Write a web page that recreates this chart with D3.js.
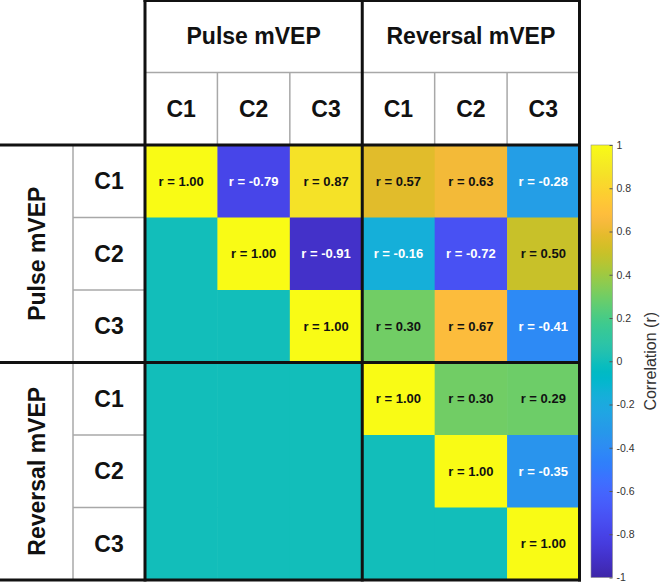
<!DOCTYPE html>
<html>
<head>
<meta charset="utf-8">
<script src="https://cdn.jsdelivr.net/npm/d3@7"></script>
<style>
  html, body { margin: 0; padding: 0; background: #fff; }
  svg { display: block; font-family: "Liberation Sans", Arial, Helvetica, sans-serif; }
</style>
</head>
<body>
<svg id="chart" width="660" height="584"></svg>
<script>
// ---------- DATA ----------
const groups = ["Pulse mVEP", "Reversal mVEP"];
const components = ["C1", "C2", "C3"];
// upper-triangle correlation matrix (rows: Pulse C1..C3, Reversal C1..C3), null = not shown
const rowPulseC1    = [1.00, -0.79,  0.87,  0.57,  0.63, -0.28];
const rowPulseC2    = [null,  1.00, -0.91, -0.16, -0.72,  0.50];
const rowPulseC3    = [null,  null,  1.00,  0.30,  0.67, -0.41];
const rowReversalC1 = [null,  null,  null,  1.00,  0.30,  0.29];
const rowReversalC2 = [null,  null,  null,  null,  1.00, -0.35];
const rowReversalC3 = [null,  null,  null,  null,  null,  1.00];
const colorbarTicks = [-1, -0.8, -0.6, -0.4, -0.2, 0, 0.2, 0.4, 0.6, 0.8, 1];
const colorbarLabel = "Correlation (r)";

// MATLAB parula colormap (64 entries)
const parula = [
[0.2422,0.1504,0.6603],[0.2504,0.1650,0.7076],[0.2578,0.1818,0.7511],[0.2647,0.1978,0.7952],
[0.2706,0.2147,0.8364],[0.2751,0.2342,0.8710],[0.2783,0.2559,0.8991],[0.2803,0.2782,0.9221],
[0.2813,0.3006,0.9414],[0.2810,0.3228,0.9579],[0.2795,0.3447,0.9717],[0.2760,0.3667,0.9829],
[0.2699,0.3892,0.9906],[0.2602,0.4123,0.9952],[0.2440,0.4358,0.9988],[0.2206,0.4603,0.9973],
[0.1963,0.4847,0.9892],[0.1834,0.5074,0.9798],[0.1786,0.5289,0.9682],[0.1764,0.5499,0.9520],
[0.1687,0.5703,0.9359],[0.1540,0.5902,0.9218],[0.1460,0.6091,0.9079],[0.1380,0.6276,0.8973],
[0.1248,0.6459,0.8883],[0.1113,0.6635,0.8763],[0.0952,0.6798,0.8598],[0.0689,0.6948,0.8394],
[0.0297,0.7082,0.8163],[0.0036,0.7203,0.7917],[0.0067,0.7312,0.7660],[0.0433,0.7411,0.7394],
[0.0964,0.7500,0.7120],[0.1408,0.7584,0.6842],[0.1717,0.7670,0.6554],[0.1938,0.7758,0.6251],
[0.2161,0.7843,0.5923],[0.2470,0.7918,0.5567],[0.2906,0.7973,0.5188],[0.3406,0.8008,0.4789],
[0.3909,0.8029,0.4354],[0.4456,0.8024,0.3909],[0.5044,0.7993,0.3480],[0.5616,0.7942,0.3045],
[0.6174,0.7876,0.2612],[0.6720,0.7793,0.2227],[0.7242,0.7698,0.1910],[0.7738,0.7598,0.1646],
[0.8203,0.7498,0.1535],[0.8634,0.7406,0.1596],[0.9035,0.7330,0.1774],[0.9393,0.7288,0.2100],
[0.9728,0.7298,0.2394],[0.9956,0.7434,0.2371],[0.9970,0.7659,0.2199],[0.9952,0.7893,0.2028],
[0.9892,0.8136,0.1885],[0.9786,0.8386,0.1766],[0.9676,0.8639,0.1643],[0.9610,0.8890,0.1537],
[0.9597,0.9135,0.1423],[0.9628,0.9373,0.1265],[0.9691,0.9606,0.1064],[0.9769,0.9839,0.0805]
].map(c => d3.rgb(c[0]*255, c[1]*255, c[2]*255).formatHex());

// ---------- BUILD ----------
const rows = [rowPulseC1, rowPulseC2, rowPulseC3, rowReversalC1, rowReversalC2, rowReversalC3];
const keys = [];
groups.forEach(g => components.forEach(c => keys.push(g + "|" + c)));
const cells = [];
rows.forEach((r, i) => r.forEach((v, j) => cells.push({ row: keys[i], col: keys[j], value: v })));

const svg = d3.select("#chart");
const gridLeft = 145, gridRight = 579.5, gridTop = 145, gridBottom = 580;
const headMid = 72.5, sideMid = 73;

const x = d3.scaleBand().domain(keys).range([gridLeft, gridRight]);
const y = d3.scaleBand().domain(keys).range([gridTop, gridBottom]);
const interp = d3.piecewise(d3.interpolateRgb, parula);
const color = d3.scaleSequential(interp).domain([-1, 1]);

// cells
svg.append("g").selectAll("rect").data(cells).join("rect")
  .attr("x", d => x(d.col)).attr("y", d => y(d.row))
  .attr("width", x.bandwidth() + 0.5).attr("height", y.bandwidth() + 0.5)
  .attr("fill", d => color(d.value == null ? 0 : d.value));

svg.append("g").selectAll("text").data(cells.filter(d => d.value != null)).join("text")
  .attr("x", d => x(d.col) + x.bandwidth() / 2)
  .attr("y", d => y(d.row) + y.bandwidth() / 2)
  .attr("text-anchor", "middle").attr("dominant-baseline", "central")
  .attr("font-size", 13).attr("font-weight", "bold")
  .attr("fill", d => d.value < 0 ? "#ffffff" : "#111111")
  .text(d => "r = " + d.value.toFixed(2));

// header labels
const gHead = svg.append("g").attr("font-weight", "bold").attr("fill", "#111").attr("text-anchor", "middle");
groups.forEach(g => {
  const k0 = g + "|" + components[0], k2 = g + "|" + components[components.length - 1];
  const cx = (x(k0) + x(k2) + x.bandwidth()) / 2;
  gHead.append("text").attr("x", cx).attr("y", headMid / 2).attr("dominant-baseline", "central")
    .attr("font-size", 23).text(g);
  const cy = (y(k0) + y(k2) + y.bandwidth()) / 2;
  gHead.append("text").attr("transform", `translate(${sideMid / 2},${cy}) rotate(-90)`)
    .attr("dominant-baseline", "central").attr("font-size", 23).text(g);
});
keys.forEach(k => {
  const c = k.split("|")[1];
  gHead.append("text").attr("x", x(k) + x.bandwidth() / 2).attr("y", (headMid + gridTop) / 2)
    .attr("dominant-baseline", "central").attr("font-size", 23).text(c);
  gHead.append("text").attr("x", (sideMid + gridLeft) / 2).attr("y", y(k) + y.bandwidth() / 2)
    .attr("dominant-baseline", "central").attr("font-size", 23).text(c);
});

// thin gray lines
const gray = svg.append("g").attr("stroke", "#a8a8a8").attr("stroke-width", 1.5);
gray.append("line").attr("x1", gridLeft).attr("x2", gridRight).attr("y1", headMid).attr("y2", headMid);
gray.append("line").attr("x1", sideMid).attr("x2", sideMid).attr("y1", gridTop).attr("y2", gridBottom);
keys.forEach((k, i) => {
  if (i % 3 === 0) return;
  gray.append("line").attr("x1", x(k)).attr("x2", x(k)).attr("y1", headMid).attr("y2", gridTop);
  gray.append("line").attr("x1", sideMid).attr("x2", gridLeft).attr("y1", y(k)).attr("y2", y(k));
});

// thick black lines
const black = svg.append("g").attr("stroke", "#111").attr("stroke-width", 3).attr("stroke-linecap", "square");
const blockX = [x(keys[0]), x(keys[3]), gridRight];
const blockY = [y(keys[0]), y(keys[3]), gridBottom];
blockX.forEach(v => black.append("line").attr("x1", v).attr("x2", v).attr("y1", 0).attr("y2", gridBottom));
blockY.forEach(v => black.append("line").attr("x1", 0).attr("x2", gridRight).attr("y1", v).attr("y2", v));
black.append("line").attr("x1", gridLeft).attr("x2", gridRight).attr("y1", 0.5).attr("y2", 0.5);

// colorbar
const cbX = 591, cbW = 21.5, cbTop = 145, cbBottom = 577.5;
const defs = svg.append("defs");
const grad = defs.append("linearGradient").attr("id", "cbgrad")
  .attr("x1", 0).attr("x2", 0).attr("y1", 1).attr("y2", 0);
parula.forEach((c, i) => grad.append("stop").attr("offset", i / (parula.length - 1)).attr("stop-color", c));
svg.append("rect").attr("x", cbX).attr("y", cbTop).attr("width", cbW).attr("height", cbBottom - cbTop)
  .attr("fill", "url(#cbgrad)").attr("stroke", "#8c8c8c").attr("stroke-width", 0.6);

const cbScale = d3.scaleLinear().domain([-1, 1]).range([cbBottom, cbTop]);
const cbAxis = svg.append("g").attr("transform", `translate(${cbX + cbW},0)`)
  .call(d3.axisRight(cbScale).tickValues(colorbarTicks).tickSize(-3).tickPadding(4)
        .tickFormat(d => String(d)));
cbAxis.select(".domain").remove();
cbAxis.selectAll(".tick line").attr("stroke", "#555");
cbAxis.selectAll(".tick text").attr("fill", "#333").attr("font-size", 10.5)
  .attr("font-family", "'Liberation Sans', Arial, sans-serif");

svg.append("text").attr("transform", `translate(650,${(cbTop + cbBottom) / 2}) rotate(-90)`)
  .attr("text-anchor", "middle").attr("dominant-baseline", "central")
  .attr("font-size", 16).attr("fill", "#333").text(colorbarLabel);
</script>
</body>
</html>
